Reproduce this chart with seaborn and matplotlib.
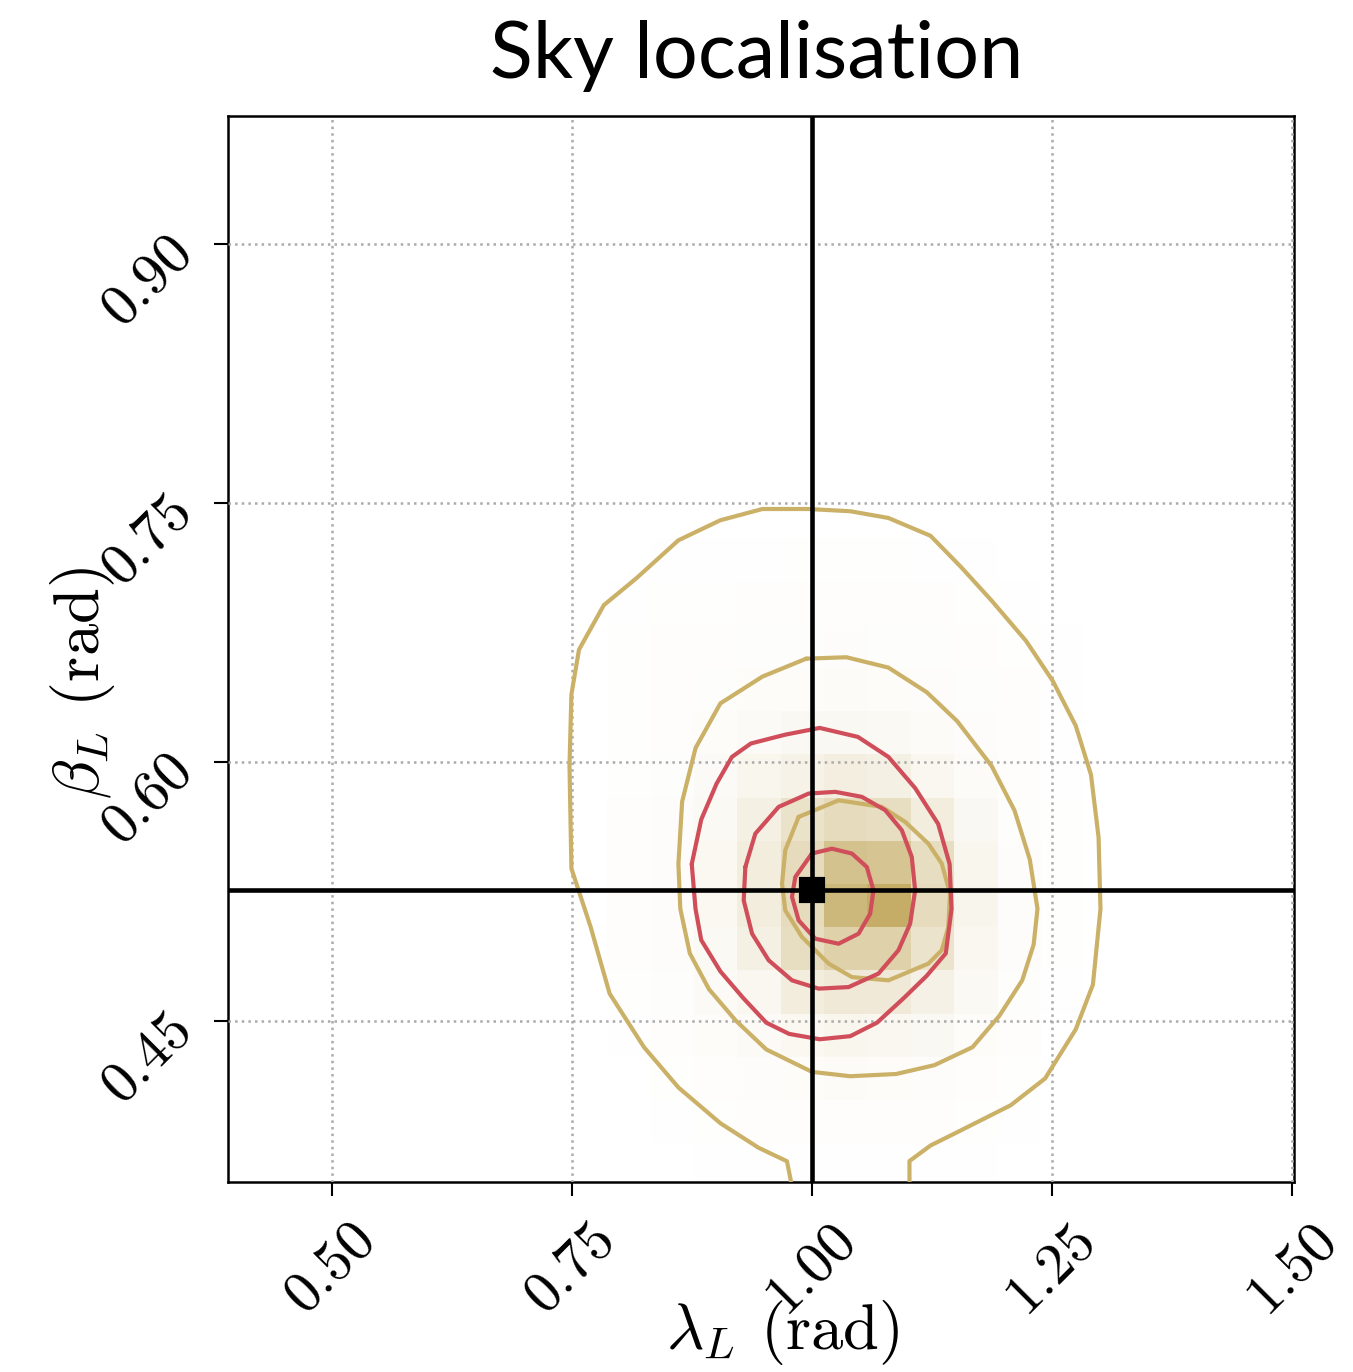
import numpy as np
import pandas as pd
import matplotlib
matplotlib.use("Agg")
import matplotlib.pyplot as plt
import seaborn as sns
from matplotlib.colors import LinearSegmentedColormap

# valorile injectate (adevarate) pentru pozitia pe cer
lambda_true = 1.0
beta_true = 0.526

# marginile binurilor histogramei 2D
x_edges = [0.7414, 0.7866, 0.8318, 0.8770, 0.9222, 0.9674, 1.0126,
           1.0578, 1.1030, 1.1482, 1.1934, 1.2386, 1.2838, 1.3290]
y_edges = [0.3545, 0.3795, 0.4045, 0.4295, 0.4545, 0.4795, 0.5045, 0.5295,
           0.5545, 0.5795, 0.6045, 0.6295, 0.6545, 0.6795, 0.7045, 0.7295]

# densitatea relativa pe binuri, randurile de sus in jos
hist_rows = [
    [0, 0, .008, .010, .010, .012, .012, .012, .010, .008, 0, 0, 0],
    [0, .010, .012, .014, .016, .018, .018, .018, .016, .014, .010, 0, 0],
    [0, .012, .016, .020, .024, .026, .028, .026, .024, .020, .014, .008, 0],
    [0, .014, .020, .026, .032, .038, .040, .036, .030, .024, .016, .010, 0],
    [0, .014, .022, .032, .050, .070, .070, .060, .045, .028, .018, .010, 0],
    [0, .015, .025, .050, .090, .130, .170, .150, .085, .040, .020, .010, 0],
    [0, .016, .030, .065, .150, .290, .370, .340, .180, .070, .025, .012, 0],
    [0, .016, .030, .075, .180, .370, .620, .590, .340, .095, .030, .012, 0],
    [0, .016, .030, .075, .180, .370, .720, .830, .370, .100, .030, .012, 0],
    [0, .016, .030, .065, .150, .340, .460, .460, .280, .080, .030, .012, 0],
    [0, .014, .025, .050, .085, .180, .220, .220, .140, .060, .025, .010, 0],
    [0, .010, .018, .032, .050, .075, .095, .085, .070, .035, .018, 0, 0],
    [0, 0, .014, .020, .028, .034, .040, .034, .028, .020, .014, 0, 0],
    [0, 0, .010, .012, .018, .020, .020, .020, .018, .012, .010, 0, 0],
    [0, 0, 0, .008, .010, .010, .010, .010, .010, .008, 0, 0, 0],
]

# contururi (nivelurile de credibilitate), citite punct cu punct
gold_outer_x = [0.978, 0.978, 0.974, 0.9445, 0.9047, 0.8610, 0.8252, 0.7894, 0.7695,
                0.7496, 0.7476, 0.7496, 0.7575, 0.7834, 0.8172, 0.8610, 0.9047,
                0.9485, 0.9962, 1.0400, 1.0797, 1.1235, 1.1553, 1.1871, 1.2229,
                1.2508, 1.2747, 1.2906, 1.2985, 1.3005, 1.2926, 1.2747, 1.2428,
                1.2070, 1.1513, 1.1235, 1.1016, 1.1016, 1.1016]
gold_outer_y = [0.340, 0.358, 0.369, 0.3768, 0.3910, 0.4117, 0.4350, 0.4660, 0.5048,
                0.5384, 0.5978, 0.6392, 0.6651, 0.6909, 0.7064, 0.7284, 0.7400,
                0.7465, 0.7465, 0.7452, 0.7413, 0.7310, 0.7129, 0.6935, 0.6702,
                0.6470, 0.6211, 0.5927, 0.5565, 0.5151, 0.4712, 0.4453, 0.4169,
                0.4014, 0.3858, 0.3781, 0.3691, 0.358, 0.340]

gold_mid_x = [0.9942, 1.0360, 1.0797, 1.1195, 1.1513, 1.1871, 1.2110, 1.2269, 1.2349,
              1.2309, 1.2190, 1.1951, 1.1672, 1.1275, 1.0877, 1.0400, 1.0002, 0.9525,
              0.9206, 0.8928, 0.8729, 0.8630, 0.8610, 0.8649, 0.8789, 0.9047, 0.9485]
gold_mid_y = [0.6599, 0.6607, 0.6547, 0.6405, 0.6237, 0.5978, 0.5720, 0.5436, 0.5151,
              0.4944, 0.4737, 0.4531, 0.4350, 0.4246, 0.4195, 0.4182, 0.4207, 0.4337,
              0.4505, 0.4686, 0.4893, 0.5151, 0.5410, 0.5772, 0.6082, 0.6340, 0.6495]

gold_inner_x = [0.9862, 1.0278, 1.0728, 1.0971, 1.1213, 1.1352, 1.1438, 1.1421, 1.1352,
                1.1213, 1.0797, 1.0416, 1.0174, 0.9897, 0.9723, 0.9689, 0.9723]
gold_inner_y = [0.5683, 0.5779, 0.5741, 0.5654, 0.5528, 0.5413, 0.5239, 0.5046, 0.4911,
                0.4834, 0.4737, 0.4756, 0.4834, 0.4988, 0.5142, 0.5297, 0.5490]

red_outer_x = [0.8749, 0.8848, 0.9007, 0.9167, 0.9365, 0.9723, 1.0081, 1.0479, 1.0797,
               1.1076, 1.1315, 1.1434, 1.1454, 1.1394, 1.1195, 1.0956, 1.0678, 1.0400,
               1.0081, 0.9763, 0.9525, 0.9286, 0.9047, 0.8848, 0.8788]
red_outer_y = [0.5410, 0.5668, 0.5875, 0.6030, 0.6108, 0.6159, 0.6198, 0.6146, 0.6030,
               0.5849, 0.5642, 0.5410, 0.5151, 0.4893, 0.4763, 0.4634, 0.4492, 0.4414,
               0.4396, 0.4427, 0.4492, 0.4634, 0.4789, 0.4970, 0.5151]

red_mid_x = [0.9307, 0.9411, 0.9654, 0.9966, 1.0243, 1.0520, 1.0763, 1.0936, 1.1040,
             1.1075, 1.1023, 1.0901, 1.0693, 1.0382, 1.0070, 0.9793, 0.9550, 0.9377, 0.9290]
red_mid_y = [0.5393, 0.5586, 0.5741, 0.5818, 0.5828, 0.5799, 0.5722, 0.5606, 0.5451,
             0.5258, 0.5065, 0.4911, 0.4776, 0.4698, 0.4689, 0.4737, 0.4853, 0.5007, 0.5200]

red_inner_x = [1.0000, 1.0208, 1.0416, 1.0572, 1.0641, 1.0607, 1.0486, 1.0278, 1.0035,
               0.9862, 0.9793, 0.9827]
red_inner_y = [0.5471, 0.5499, 0.5471, 0.5393, 0.5258, 0.5123, 0.5007, 0.4949, 0.4978,
               0.5084, 0.5220, 0.5335]

x_ticks = [0.50, 0.75, 1.00, 1.25, 1.50]
x_tick_labels = ["0.50", "0.75", "1.00", "1.25", "1.50"]
y_ticks = [0.45, 0.60, 0.75, 0.90]
y_tick_labels = ["0.45", "0.60", "0.75", "0.90"]

GOLD = "#CBB167"
RED = "#CF4E5A"


def closed(xs, ys):
    return list(xs) + [xs[0]], list(ys) + [ys[0]]


sns.set_style("ticks")
plt.rcParams["font.family"] = "serif"
plt.rcParams["font.serif"] = ["cmr10"]
plt.rcParams["mathtext.fontset"] = "cm"
plt.rcParams["axes.formatter.use_mathtext"] = True
for key in ["text.color", "axes.labelcolor", "xtick.color", "ytick.color", "axes.edgecolor"]:
    plt.rcParams[key] = "black"

fig = plt.figure(figsize=(1353 / 300, 1372 / 300), dpi=300)
fig.subplots_adjust(left=0.1685, right=0.9564, top=0.9155, bottom=0.1385)
ax = fig.add_subplot(111)

# histograma 2D ca fundal
xc = [(a + b) / 2 for a, b in zip(x_edges[:-1], x_edges[1:])]
yc = [(a + b) / 2 for a, b in zip(y_edges[:-1], y_edges[1:])]
counts = np.array(hist_rows[::-1])
gx, gy = np.meshgrid(xc, yc)
df = pd.DataFrame({"lam": gx.ravel(), "beta": gy.ravel(), "w": counts.ravel()})
df = df[df["w"] > 0]
cmap = LinearSegmentedColormap.from_list("gold", ["#FFFFFF", "#BA9C48"])
sns.histplot(data=df, x="lam", y="beta", weights="w", bins=[x_edges, y_edges],
             cmap=cmap, vmin=0, vmax=1, ax=ax)

# contururi
for xs, ys in [closed(gold_mid_x, gold_mid_y), closed(gold_inner_x, gold_inner_y)]:
    ax.plot(xs, ys, color=GOLD, lw=1.0, zorder=3)
ax.plot(gold_outer_x, gold_outer_y, color=GOLD, lw=1.0, zorder=3)
for xs, ys in [closed(red_outer_x, red_outer_y), closed(red_mid_x, red_mid_y),
               closed(red_inner_x, red_inner_y)]:
    ax.plot(xs, ys, color=RED, lw=1.0, zorder=4)

# valoarea adevarata
ax.axvline(lambda_true, color="black", lw=1.1, zorder=5)
ax.axhline(beta_true, color="black", lw=1.1, zorder=5)
ax.plot([lambda_true], [beta_true], marker="s", color="black", ms=5.5, zorder=6)

ax.set_xlim(0.392, 1.502)
ax.set_ylim(0.357, 0.974)
ax.set_xticks(x_ticks)
ax.set_xticklabels(x_tick_labels, rotation=45)
ax.set_yticks(y_ticks)
ax.set_yticklabels(y_tick_labels, rotation=45, rotation_mode="anchor", ha="right", va="center")
ax.tick_params(direction="out", length=3.4, width=0.5, labelsize=14)
ax.tick_params(axis="x", pad=4)
ax.tick_params(axis="y", pad=7)
ax.set_axisbelow(False)
ax.grid(True, ls=":", color="#aaaaaa", lw=0.6, zorder=2.5)
for sp in ax.spines.values():
    sp.set_linewidth(0.6)
    sp.set_visible(True)

ax.set_xlabel(r"$\lambda_L$ (rad)", fontsize=15.5)
ax.set_ylabel(r"$\beta_L$ (rad)", fontsize=15.5)
ax.xaxis.set_label_coords(0.52, -0.109)
ax.yaxis.set_label_coords(-0.104, 0.468)
ax.set_title("Sky localisation", fontfamily="Lato", fontsize=19, pad=9, x=0.496)

fig.savefig("out.png", dpi=300)
